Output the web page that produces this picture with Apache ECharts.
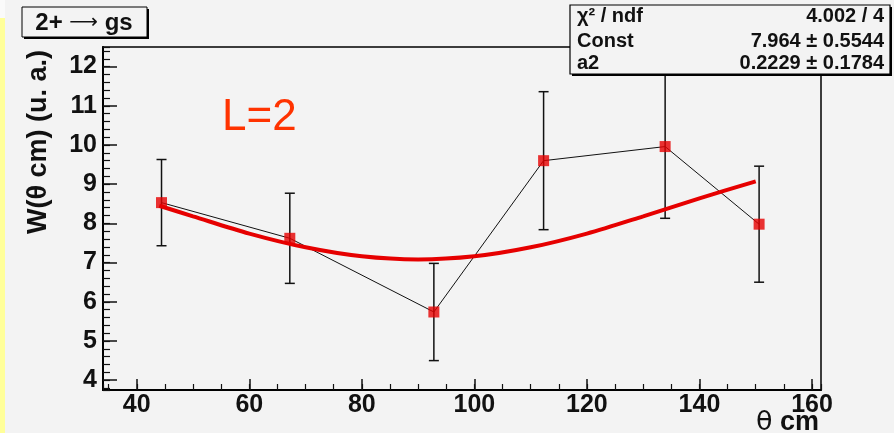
<!DOCTYPE html>
<html>
<head>
<meta charset="utf-8">
<title>W(theta)</title>
<script src="https://cdn.jsdelivr.net/npm/echarts@6/dist/echarts.min.js"></script>
<style>
  html, body { margin: 0; padding: 0; background: #f3f3f3; }
  #main { width: 894px; height: 433px; }
</style>
</head>
<body>
<div id="main"></div>
<script>
// measured points
var theta = [44.4, 67.2, 92.8, 112.3, 133.9, 150.6]
var wVal = [8.53, 7.62, 5.74, 9.6, 9.96, 7.98]
var wErr = [1.1, 1.15, 1.24, 1.76, 1.83, 1.48]

// fit curve
var fitTheta = [44, 50, 60, 70, 80, 90, 100, 110, 120, 130, 140, 150]
var fitW = [8.45, 8.18, 7.74, 7.39, 7.16, 7.08, 7.16, 7.39, 7.74, 8.18, 8.64, 9.07]

var statsRows = [
  ['χ² / ndf', '4.002 / 4'],
  ['Const', '7.964 ± 0.5544'],
  ['a2', '0.2229 ± 0.1784']
]

var FONT = '"Liberation Sans", Arial, sans-serif'
var RED = '#e60000'

var points = theta.map(function (t, i) { return [t, wVal[i]] })
var errData = theta.map(function (t, i) { return [t, wVal[i] - wErr[i], wVal[i] + wErr[i]] })
var fitData = fitTheta.map(function (t, i) { return [t, fitW[i]] })

var chart = echarts.init(document.getElementById('main'))

// stats box graphics
var statsGraphics = [
  { type: 'rect', shape: { x: 572, y: 7, width: 320, height: 69 }, style: { fill: '#000' }, z: 100 },
  { type: 'rect', shape: { x: 570, y: 5, width: 320, height: 69 }, style: { fill: '#f3f3f3', stroke: '#000', lineWidth: 1.2 }, z: 101 }
]
var rowY = [16, 41, 63]
statsRows.forEach(function (r, i) {
  statsGraphics.push({
    type: 'text', x: 577, y: rowY[i], z: 102,
    style: { text: r[0], font: 'bold 20px ' + FONT, fill: '#111', align: 'left', verticalAlign: 'middle' }
  })
  statsGraphics.push({
    type: 'text', x: 884, y: rowY[i], z: 102,
    style: { text: r[1], font: 'bold 20px ' + FONT, fill: '#111', align: 'right', verticalAlign: 'middle' }
  })
})

chart.setOption({
  animation: false,
  backgroundColor: '#f3f3f3',
  grid: {
    left: 103, right: 73, top: 47, bottom: 43,
    show: true, borderColor: '#000', borderWidth: 1.5, backgroundColor: 'transparent'
  },
  xAxis: [
    {
      type: 'value', min: 34, max: 161.6, splitNumber: 6,
      axisLine: { onZero: false, lineStyle: { color: '#000', width: 2 } },
      axisTick: { inside: true, length: 11, lineStyle: { color: '#111', width: 1.5 } },
      axisLabel: {
        showMinLabel: false, showMaxLabel: false, margin: 3,
        color: '#111', fontSize: 25, fontWeight: 'bold', fontFamily: FONT,
        formatter: function (v) { return v % 20 === 0 ? String(v) : '' }
      },
      splitLine: { show: false }
    },
    {
      type: 'value', min: 34, max: 161.6, splitNumber: 25, position: 'bottom',
      axisLine: { show: false },
      axisTick: { inside: true, length: 6, lineStyle: { color: '#111', width: 1.2 } },
      axisLabel: { show: false },
      splitLine: { show: false }
    }
  ],
  yAxis: [
    {
      type: 'value', min: 3.75, max: 12.5, splitNumber: 9,
      axisLine: { show: true, onZero: false, lineStyle: { color: '#000', width: 2 } },
      axisTick: { show: true, inside: true, length: 14, lineStyle: { color: '#111', width: 1.5 } },
      axisLabel: {
        showMinLabel: false, showMaxLabel: false, margin: 6,
        color: '#111', fontSize: 25, fontWeight: 'bold', fontFamily: FONT,
        formatter: function (v) { return Math.abs(v - Math.round(v)) < 1e-6 ? String(Math.round(v)) : '' }
      },
      splitLine: { show: false }
    },
    {
      type: 'value', min: 3.75, max: 12.5, splitNumber: 44, position: 'left', offset: 0,
      axisLine: { show: false },
      axisTick: { show: true, inside: true, length: 7, lineStyle: { color: '#111', width: 1.2 } },
      axisLabel: { show: false },
      splitLine: { show: false }
    }
  ],
  series: [
    {
      type: 'line', data: points, symbol: 'none', z: 2,
      lineStyle: { color: '#111', width: 1 }
    },
    {
      type: 'custom', data: errData, z: 3,
      renderItem: function (params, api) {
        var x = api.value(0)
        var lo = api.coord([x, api.value(1)])
        var hi = api.coord([x, api.value(2)])
        var cap = 5
        var st = { stroke: '#111', lineWidth: 1.5 }
        return {
          type: 'group',
          children: [
            { type: 'line', shape: { x1: lo[0], y1: lo[1], x2: hi[0], y2: hi[1] }, style: st },
            { type: 'line', shape: { x1: lo[0] - cap, y1: lo[1], x2: lo[0] + cap, y2: lo[1] }, style: st },
            { type: 'line', shape: { x1: hi[0] - cap, y1: hi[1], x2: hi[0] + cap, y2: hi[1] }, style: st }
          ]
        }
      }
    },
    {
      type: 'line', data: fitData, smooth: 0.3, symbol: 'none', z: 4,
      lineStyle: { color: RED, width: 4 }
    },
    {
      type: 'scatter', data: points, symbol: 'rect', symbolSize: 11, z: 5,
      itemStyle: { color: RED }
    }
  ],
  graphic: [
    { type: 'rect', shape: { x: 0, y: 0, width: 5, height: 18 }, style: { fill: '#fafafa' }, z: 50 },
    { type: 'rect', shape: { x: 0, y: 18, width: 5, height: 415 }, style: { fill: '#ffff99' }, z: 50 },
    // title box
    { type: 'rect', shape: { x: 24, y: 9, width: 125, height: 30 }, style: { fill: '#000' }, z: 100 },
    { type: 'rect', shape: { x: 22, y: 7, width: 125, height: 30 }, style: { fill: '#f3f3f3', stroke: '#000', lineWidth: 1 }, z: 101 },
    {
      type: 'text', x: 84, y: 23, z: 102,
      style: {
        text: '{b|2+ }{a|⟶}{b| gs}', align: 'center', verticalAlign: 'middle',
        rich: {
          b: { font: 'bold 24px ' + FONT, fill: '#111' },
          a: { font: '20px "DejaVu Sans"', fill: '#111' }
        }
      }
    },
    // L=2
    {
      type: 'text', x: 222, y: 118, z: 60,
      style: { text: 'L=2', font: '44px ' + FONT, fill: '#ff3300', align: 'left', verticalAlign: 'middle' }
    },
    // y axis title
    {
      type: 'text', x: 39, y: 142, rotation: Math.PI / 2, z: 60,
      style: { text: 'W(θ cm) (u. a.)', font: 'bold 27px ' + FONT, fill: '#111', align: 'center', verticalAlign: 'middle' }
    },
    // x axis title
    {
      type: 'text', x: 819, y: 423, z: 60,
      style: {
        text: '{t|θ}{c| cm}', align: 'right', verticalAlign: 'middle',
        rich: {
          t: { font: '27px "DejaVu Sans"', fill: '#111' },
          c: { font: 'bold 27px ' + FONT, fill: '#111' }
        }
      }
    }
  ].concat(statsGraphics)
})
</script>
</body>
</html>
